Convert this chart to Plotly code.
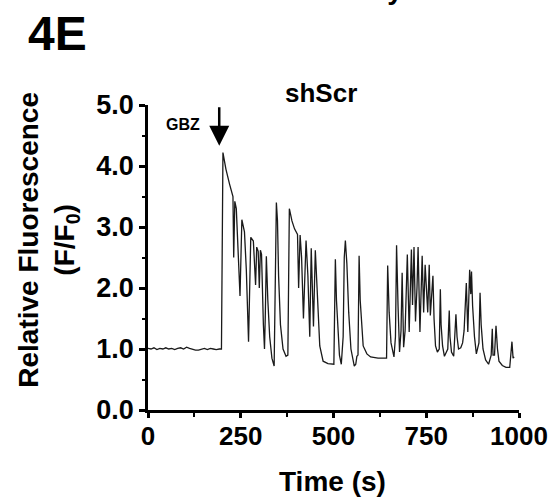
import plotly.graph_objects as go

# Time (s)
time_s = [0, 8, 16, 24, 32, 40, 48, 56, 64, 72, 80, 88, 96, 104, 112, 120, 128, 136, 144, 152,
          160, 168, 176, 184, 192, 198,
          202, 210, 220, 229, 231, 234, 238, 248, 253, 260, 265, 271, 277, 284, 290, 293, 297,
          300, 303, 306, 311, 314, 316, 319, 323, 328, 334, 340, 346, 349, 352, 357, 364, 372,
          377, 381, 388, 395, 403, 406, 410, 414, 419, 426, 431, 436, 440, 446, 451, 455, 459,
          463, 472, 485, 501, 505, 508, 512, 516, 521, 526, 529, 532, 536, 541, 547, 556, 560,
          563, 566, 569, 572, 576, 580, 590, 600, 620, 643, 646, 650, 655, 663, 667, 670, 674,
          678, 682, 685, 689, 693, 699, 704, 710, 713, 717, 721, 725, 728, 733, 739, 743, 747,
          754, 758, 761, 765, 768, 771, 775, 780, 785, 788, 790, 794, 799, 808, 812, 814, 818,
          824, 830, 833, 837, 843, 848, 852, 858, 862, 864, 867, 870, 872, 875, 880, 885, 892,
          895, 898, 903, 910, 918, 925, 928, 930, 934, 938, 942, 946, 955, 965, 975, 981, 984,
          987, 989]

# Relative fluorescence (F/F0)
fluor = [1.01, 1.00, 1.02, 0.99, 1.01, 1.00, 1.02, 1.00, 1.01, 0.99, 1.01, 1.02, 1.00, 1.03,
         1.01, 0.99, 0.98, 0.98, 0.99, 1.01, 0.99, 1.01, 1.00, 0.99, 1.00, 1.00,
         4.22, 3.95, 3.70, 3.50, 2.50, 3.42, 3.30, 1.87, 3.12, 2.92, 2.30, 1.12, 2.83, 2.77,
         2.05, 2.67, 2.60, 2.00, 2.62, 2.55, 1.40, 1.00, 1.50, 2.52, 1.80, 1.20, 0.85, 0.72,
         3.40, 3.10, 2.20, 1.40, 1.00, 0.88, 0.90, 3.30, 3.10, 2.97, 2.88, 2.00, 2.87, 2.50,
         1.50, 2.78, 2.20, 1.20, 2.65, 1.37, 2.62, 2.10, 1.50, 1.05, 0.80, 0.76, 0.75, 2.47,
         1.80, 1.20, 0.90, 0.75, 1.20, 2.50, 2.78, 2.40, 1.60, 1.00, 0.72, 0.75, 0.88, 0.90,
         2.53, 1.80, 1.30, 1.05, 0.92, 0.87, 0.85, 0.85, 2.37, 1.60, 1.10, 0.87, 1.20, 2.70,
         1.70, 0.95, 1.30, 2.25, 1.03, 1.30, 2.55, 1.28, 2.63, 1.72, 2.67, 1.45, 2.00, 2.67,
         1.28, 2.53, 1.60, 2.38, 1.60, 2.38, 1.55, 1.90, 2.20, 1.50, 1.05, 0.95, 1.00, 1.98,
         1.40, 1.05, 0.88, 1.00, 1.63, 1.20, 0.95, 0.88, 1.57, 1.20, 1.00, 1.02, 1.10, 1.30,
         2.08, 1.28, 1.80, 2.30, 1.90, 2.27, 1.70, 1.20, 0.92, 1.10, 1.92, 1.40, 1.00, 0.82,
         0.75, 0.90, 1.33, 0.90, 0.90, 1.38, 1.00, 0.80, 0.73, 0.70, 0.70, 1.12, 0.85, 0.87]

x_ticks = [0, 250, 500, 750, 1000]
x_minor = [125, 375, 625, 875]
y_ticks = [0, 1, 2, 3, 4, 5]
y_minor = [0.5, 1.5, 2.5, 3.5, 4.5]
y_tick_labels = ["0.0", "1.0", "2.0", "3.0", "4.0", "5.0"]

FONT = "Liberation Sans, Arial, sans-serif"
W, H = 560, 502
ML, MR, MT, MB = 148, 31, 105, 92

fig = go.Figure()
fig.add_trace(go.Scatter(x=time_s, y=fluor, mode="lines",
                         line=dict(color="#1a1a1a", width=1.3), showlegend=False))

fig.update_layout(
    width=W, height=H,
    margin=dict(l=ML, r=MR, t=MT, b=MB),
    paper_bgcolor="white", plot_bgcolor="white",
    font=dict(family=FONT, color="black"),
    xaxis=dict(range=[0, 1000], tickvals=x_ticks, showgrid=False, zeroline=False,
               showline=True, linecolor="black", linewidth=2.5,
               ticks="outside", ticklen=5, tickwidth=2.5, tickcolor="black",
               minor=dict(tickvals=x_minor, ticks="outside", ticklen=4,
                          tickwidth=2, tickcolor="black"),
               tickfont=dict(size=26, family=FONT, weight="bold"),
               ticklabelstandoff=-4, ticklabeloverflow="allow"),
    yaxis=dict(range=[0, 5], tickvals=y_ticks, ticktext=y_tick_labels, showgrid=False,
               zeroline=False, showline=True, linecolor="black", linewidth=2.5,
               ticks="outside", ticklen=6, tickwidth=2.5, tickcolor="black",
               minor=dict(tickvals=y_minor, ticks="outside", ticklen=3,
                          tickwidth=2, tickcolor="black"),
               tickfont=dict(size=27, family=FONT, weight="bold"),
               ticklabeloverflow="allow"),
)


def px_x(px):
    return (px - ML) / (W - ML - MR)


def px_y(py):
    return (H - MB - py) / (H - MT - MB)


def label(text, x, y, size, **kw):
    d = dict(text=text, xref="paper", yref="paper", x=px_x(x), y=px_y(y),
             showarrow=False, xanchor="center", yanchor="middle",
             font=dict(size=size, family=FONT, color="black"))
    d.update(kw)
    fig.add_annotation(**d)


label("<b>4E</b>", 55, 33, 48)
label("<b>Control</b>", 230, 7, 28, yanchor="bottom")
label("<b>Nyd</b>", 400, 7, 28, yanchor="bottom")
label("<b>shScr</b>", 326, 93, 26)
label("<b>Time (s)</b>", 337, 481, 28)
label("<b>Relative Fluorescence</b><br><b>(F/F<sub>0</sub>)</b>", 45, 240, 28, textangle=-90)
label("<b>GBZ</b>", 184, 125, 16)

fig.add_annotation(text="", x=192, y=4.33, xref="x", yref="y",
                   showarrow=True, ax=0, ay=-40, arrowhead=2, arrowsize=1.6,
                   arrowwidth=2.5, arrowcolor="black", standoff=0)

fig.write_html("out.html", config={"displayModeBar": False},
               post_script="document.body.style.margin='0';")
